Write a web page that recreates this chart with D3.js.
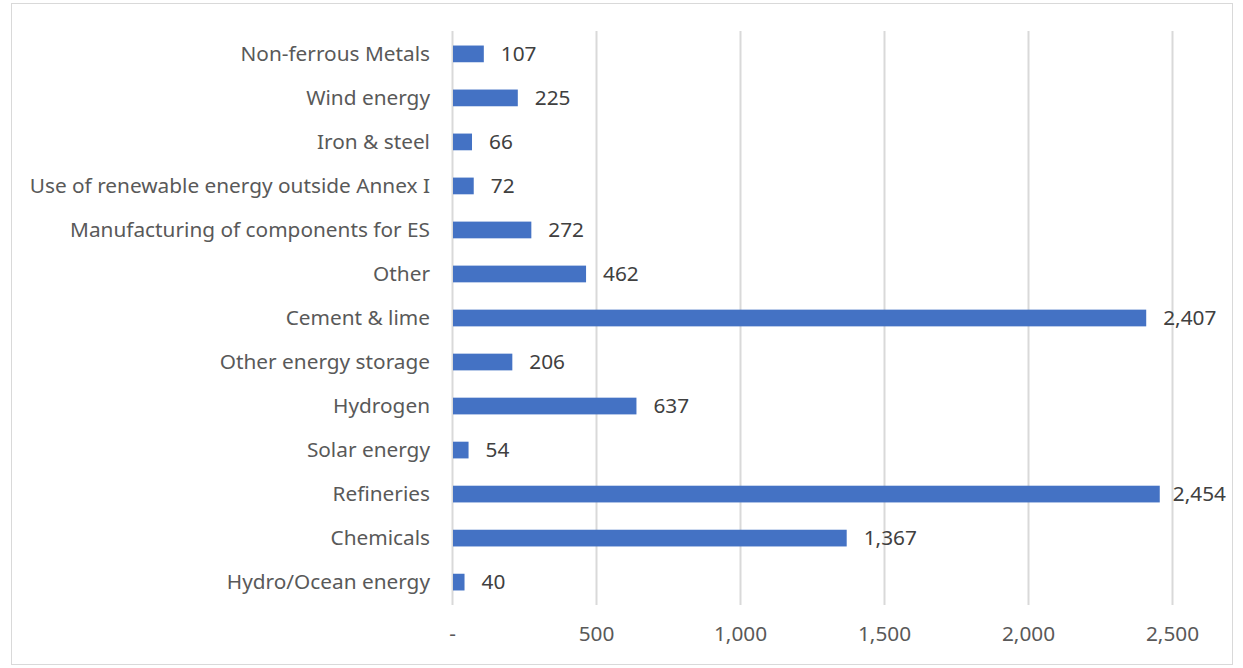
<!DOCTYPE html>
<html>
<head>
<meta charset="utf-8">
<script src="https://cdn.jsdelivr.net/npm/d3@7"></script>
<style>
  html, body { margin: 0; padding: 0; background: #fff; }
  text { font-family: "Noto Sans", "Open Sans", sans-serif; }
</style>
</head>
<body>
<div class="canvas"></div>
<script>
const WIDTH = 1243;
const HEIGHT = 668;
const FONT = '"Noto Sans", "Open Sans", sans-serif';
const FONT_SIZE = 20.8;

const categories = [
  'Non-ferrous Metals', 'Wind energy', 'Iron & steel',
  'Use of renewable energy outside Annex I', 'Manufacturing of components for ES',
  'Other', 'Cement & lime', 'Other energy storage', 'Hydrogen',
  'Solar energy', 'Refineries', 'Chemicals', 'Hydro/Ocean energy'
];
const values = [107, 225, 66, 72, 272, 462, 2407, 206, 637, 54, 2454, 1367, 40];
const xTicks = [0, 500, 1000, 1500, 2000, 2500];

const data = categories.map((c, i) => ({ name: c, value: values[i] }));

const svg = d3.select('.canvas').append('svg')
  .attr('width', WIDTH)
  .attr('height', HEIGHT);

// chart border
svg.append('rect')
  .attr('x', 11.5).attr('y', 3.5)
  .attr('width', 1221).attr('height', 661)
  .attr('fill', '#fff')
  .attr('stroke', '#d9d9d9');

const plot = { left: 452, right: 1172, top: 31, bottom: 605 };

//scales
const x = d3.scaleLinear().domain([0, 2500]).range([plot.left, plot.right]);
const y = d3.scaleBand().domain(categories)
  .range([plot.top, plot.bottom]).paddingInner(0.62).paddingOuter(0.33);

//gridlines
svg.append('g').selectAll('line')
  .data(xTicks)
  .join('line')
  .attr('x1', d => x(d) + 0.5).attr('x2', d => x(d) + 0.5)
  .attr('y1', plot.top).attr('y2', plot.bottom)
  .attr('stroke', '#d9d9d9')
  .attr('stroke-width', 2);

//x axis
const xAxis = d3.axisBottom(x)
  .tickValues(xTicks)
  .tickSize(0)
  .tickPadding(0)
  .tickFormat(d => d === 0 ? '-' : d3.format(',')(d));

svg.append('g')
  .attr('transform', `translate(0, ${plot.bottom + 21})`)
  .call(xAxis)
  .call(g => g.select('.domain').remove())
  .call(g => g.selectAll('text')
    .attr('fill', '#595959')
    .attr('font-size', FONT_SIZE)
    .style('font-family', FONT));

//y axis labels
const yAxis = d3.axisLeft(y).tickSize(0).tickPadding(22);
svg.append('g')
  .attr('transform', `translate(${plot.left}, 0)`)
  .call(yAxis)
  .call(g => g.select('.domain').remove())
  .call(g => g.selectAll('text')
    .attr('fill', '#595959')
    .attr('font-size', FONT_SIZE)
    .style('font-family', FONT));

//bars
svg.append('g').selectAll('rect')
  .data(data)
  .join('rect')
  .attr('x', x(0) + 1)
  .attr('y', d => y(d.name))
  .attr('width', d => x(d.value) - x(0))
  .attr('height', y.bandwidth())
  .attr('fill', '#4472c4');

//value labels, pulled back inside the border when they would overflow
svg.append('g').selectAll('text')
  .data(data)
  .join('text')
  .attr('y', d => y(d.name) + y.bandwidth() / 2)
  .attr('dy', '0.35em')
  .attr('fill', '#404040')
  .attr('font-size', FONT_SIZE)
  .text(d => d3.format(',')(d.value))
  .attr('x', function(d) {
    const w = this.getComputedTextLength();
    return Math.min(x(d.value) + 18, 1226 - w);
  });
</script>
</body>
</html>
